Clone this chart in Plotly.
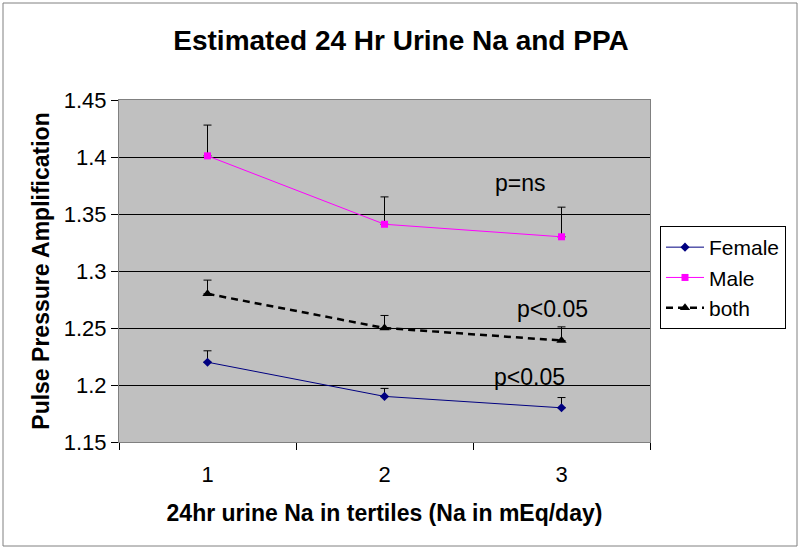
import plotly.graph_objects as go

tertiles = [1, 2, 3]
female = [1.22, 1.19, 1.18]
female_err = [0.010, 0.007, 0.009]
male = [1.401, 1.341, 1.330]
male_err = [0.027, 0.024, 0.026]
both = [1.280, 1.250, 1.239]
both_err = [0.012, 0.011, 0.012]
y_ticks = [1.15, 1.2, 1.25, 1.3, 1.35, 1.4, 1.45]
y_labels = ["1.15", "1.2", "1.25", "1.3", "1.35", "1.4", "1.45"]

FONT = "Liberation Sans, Arial, sans-serif"

def err(vals):
    return dict(type="data", array=vals, arrayminus=[0] * len(vals), symmetric=False,
                color="black", thickness=1, width=4)

fig = go.Figure()
fig.add_trace(go.Scatter(x=tertiles, y=female, name="Female", mode="lines+markers",
                         line=dict(color="#000080", width=1),
                         marker=dict(symbol="diamond", size=7, color="#000080"),
                         error_y=err(female_err)))
fig.add_trace(go.Scatter(x=tertiles, y=male, name="Male", mode="lines+markers",
                         line=dict(color="#FF00FF", width=1),
                         marker=dict(symbol="square", size=7, color="#FF00FF"),
                         error_y=err(male_err)))
fig.add_trace(go.Scatter(x=tertiles, y=both, name="both", mode="lines+markers",
                         line=dict(color="black", width=2.5, dash="7px,5px"),
                         marker=dict(symbol="triangle-up", size=9, color="black"),
                         error_y=err(both_err)))

annots = [("p=ns", 2.77, 1.377), ("p<0.05", 2.95, 1.267), ("p<0.05", 2.82, 1.207)]
for t, x, y in annots:
    fig.add_annotation(x=x, y=y, text=t, showarrow=False, xref="x", yref="y",
                       font=dict(size=23, color="black", family=FONT))

fig.add_shape(type="rect", xref="paper", yref="paper",
              x0=(3 - 119) / 531, x1=(797 - 119) / 531,
              y0=(442 - 546) / 342, y1=(442 - 3) / 342,
              line=dict(color="#808080", width=1), fillcolor="rgba(0,0,0,0)", layer="below")

fig.update_layout(
    width=800, height=549,
    margin=dict(l=119, r=150, t=100, b=107),
    paper_bgcolor="white", plot_bgcolor="#C0C0C0",
    font=dict(family=FONT, color="black"),
    title=dict(text="<b>Estimated 24 Hr Urine Na and PPA</b>", x=(401 - 119) / 531, xref="paper",
               xanchor="center", y=1 - 40 / 549, yanchor="middle", font=dict(size=28, family=FONT)),
    showlegend=True,
    legend=dict(x=(660 - 119) / 531, y=(442 - 226) / 342, xanchor="left", yanchor="top",
                bgcolor="white", bordercolor="black", borderwidth=1,
                font=dict(size=21, family=FONT), itemwidth=38, tracegroupgap=0),
    xaxis=dict(range=[0.5, 3.5], tickvals=tertiles, ticktext=["1", "2", "3"],
               ticks="", showgrid=False, zeroline=False,
               showline=True, linecolor="#808080", linewidth=1, mirror=True,
               tickfont=dict(size=22), ticklabelstandoff=13,
               minor=dict(tick0=0.5, dtick=1, ticks="outside", ticklen=7, tickcolor="black", showgrid=False),
               title=dict(text="<b>24hr urine Na in tertiles (Na in mEq/day)</b>", font=dict(size=23), standoff=18)),
    yaxis=dict(range=[1.15, 1.45], tickvals=y_ticks, ticktext=y_labels,
               ticks="outside", ticklen=7, tickcolor="black",
               showgrid=True, gridcolor="black", gridwidth=1, zeroline=False,
               showline=True, linecolor="#808080", linewidth=1, mirror=True,
               tickfont=dict(size=22),
               title=dict(text="<b>Pulse Pressure Amplification</b>", font=dict(size=23), standoff=7)),
)

fig.write_html("out.html", config={"displayModeBar": False},
               post_script="document.body.style.margin='0';document.body.style.overflow='hidden';")
